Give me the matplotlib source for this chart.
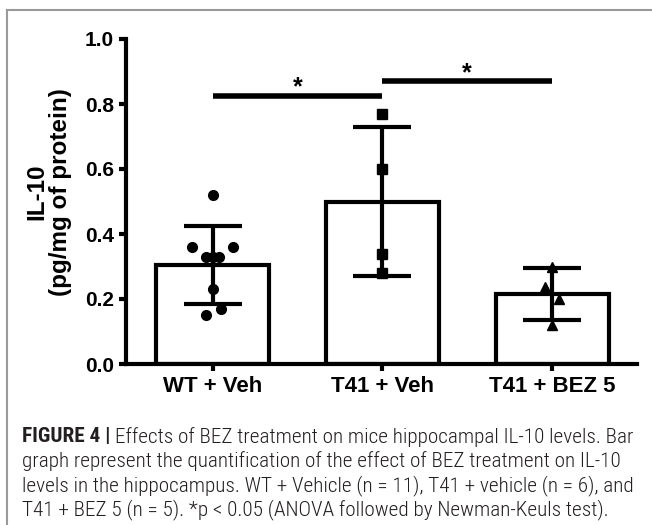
import matplotlib
matplotlib.use("Agg")
import matplotlib.pyplot as plt
from matplotlib import font_manager as fm
from matplotlib.lines import Line2D
import numpy as np

# ---------------- data ----------------
categories = ["WT + Veh", "T41 + Veh", "T41 + BEZ 5"]
means = [0.305, 0.50, 0.215]
sds = [0.12, 0.23, 0.08]
wt_points = [0.52, 0.36, 0.36, 0.33, 0.33, 0.33, 0.23, 0.17, 0.15]
wt_offsets = [0.0, -0.12, 0.12, -0.04, 0.0, 0.04, 0.0, 0.05, -0.04]
t41_points = [0.77, 0.60, 0.34, 0.28]
t41_offsets = [0.0, 0.0, 0.0, 0.0]
bez_points = [0.30, 0.237, 0.20, 0.12]
bez_offsets = [0.0, -0.04, 0.04, 0.0]
yticks = [0.0, 0.2, 0.4, 0.6, 0.8, 1.0]
ytick_labels = ["0.0", "0.2", "0.4", "0.6", "0.8", "1.0"]
sig_pairs = [(0, 1, 0.825), (1, 2, 0.87)]
ylabel = "IL-10\n(pg/mg of protein)"
caption_bold = "FIGURE 4 | "
caption_lines = [
    "Effects of BEZ treatment on mice hippocampal IL-10 levels. Bar",
    "graph represent the quantification of the effect of BEZ treatment on IL-10",
    "levels in the hippocampus. WT + Vehicle (n = 11), T41 + vehicle (n = 6), and",
    "T41 + BEZ 5 (n = 5). *p < 0.05 (ANOVA followed by Newman-Keuls test).",
]

W, H = 652, 525
fig = plt.figure(figsize=(W / 100, H / 100), dpi=100)

def px(x0, y0, x1, y1):
    return [x0 / W, 1 - y1 / H, (x1 - x0) / W, (y1 - y0) / H]

ax = fig.add_axes(px(126, 39, 637, 364))
bold = dict(family="Liberation Sans", weight="bold")
lw = 3

x = np.arange(len(categories))
ax.bar(x, means, width=0.665, color="white", edgecolor="black", linewidth=lw, zorder=2)
ax.errorbar(x, means, yerr=sds, fmt="none", ecolor="black", elinewidth=lw,
            capsize=21, capthick=lw, zorder=3)

ms = 7
ax.plot(0 + np.array(wt_offsets), wt_points, "o", color="black", ms=ms, zorder=4)
ax.plot(1 + np.array(t41_offsets), t41_points, "s", color="black", ms=6.5, zorder=4)
ax.plot(2 + np.array(bez_offsets), bez_points, "^", color="black", ms=ms, zorder=4)

for a, b, yv in sig_pairs:
    ax.plot([a, b], [yv, yv], color="black", lw=4, solid_capstyle="butt", zorder=4)
    ax.text((a + b) / 2, yv - 0.012, "*", ha="center", va="bottom", fontsize=18, **bold)

ax.set_xlim(-0.51, 2.5)
ax.set_ylim(0, 1.0)
ax.set_yticks(yticks)
ax.set_yticklabels(ytick_labels)
ax.set_xticks(x)
ax.set_xticklabels(categories)
for s in ["top", "right"]:
    ax.spines[s].set_visible(False)
for s in ["left", "bottom"]:
    ax.spines[s].set_linewidth(lw)
ax.tick_params(width=lw, length=5)
for lab in ax.get_yticklabels():
    lab.set_fontproperties(fm.FontProperties(family="Liberation Sans", weight="bold", size=15))
for lab in ax.get_xticklabels():
    lab.set_fontproperties(fm.FontProperties(family="Liberation Sans", weight="bold", size=16))
ax.set_ylabel(ylabel, fontsize=17.5, linespacing=1.0, **bold)
ax.yaxis.set_label_coords(-0.106, 0.53)

# frame lines of figure panel
fig.add_artist(Line2D([7 / W, 7 / W], [0, 1 - 10 / H], color="#999999", lw=1.5))
fig.add_artist(Line2D([7 / W, 1], [1 - 10 / H, 1 - 10 / H], color="#999999", lw=1.5))

# caption font: prefer a narrow family
def pick_caption_font():
    names = {f.name for f in fm.fontManager.ttflist}
    for nm in ["Liberation Sans Narrow", "Arial Narrow", "Roboto Condensed",
               "Open Sans Condensed", "Noto Sans Condensed"]:
        if nm in names:
            return dict(family=nm)
    return dict(family="Liberation Sans")

cap = pick_caption_font()
cap_size = 13
ys = [437, 461.5, 486, 510]
col = "#231f20"
r = fig.canvas.get_renderer()
t0 = fig.text(22 / W, 1 - ys[0] / H, caption_bold, weight="bold",
              fontsize=cap_size, va="center", color=col, **cap)
t1 = fig.text(0, 1 - ys[0] / H, caption_lines[0], fontsize=cap_size, weight="light",
              va="center", color=col, **cap)
others = []
for yy, line in zip(ys[1:], caption_lines[1:]):
    others.append(fig.text(22 / W, 1 - yy / H, line, fontsize=cap_size, weight="light",
                           va="center", color=col, **cap))
# fit first line to the reference width (22 -> 632 px)
w0 = t0.get_window_extent(renderer=r).width + t1.get_window_extent(renderer=r).width
new_size = cap_size * 610.0 / w0
for tt in [t0, t1] + others:
    tt.set_fontsize(new_size)
bb = t0.get_window_extent(renderer=r)
t1.set_x(bb.x1 / W)

fig.savefig("out.png", dpi=100)
